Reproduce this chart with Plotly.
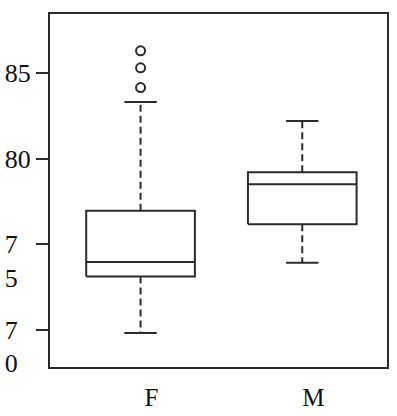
import plotly.graph_objects as go

# ---- data ----
groups = ["F", "M"]
q1 = [73.1, 76.15]
median = [73.95, 78.5]
q3 = [76.95, 79.2]
lower_whisker = [69.8, 73.9]
upper_whisker = [83.3, 82.2]
outliers = [[84.15, 85.3, 86.3], []]

ytick_vals = [70, 75, 80, 85]
ytick_text = ["\u00a0<br>7\u00a0\u00a0<br>0\u00a0\u00a0", "\u00a0<br>7\u00a0\u00a0<br>5\u00a0\u00a0", "80", "85"]

# ---- style ----
INK = "#2b2b2b"
FONT = "Liberation Serif"
BOX_HALF = 0.336
CAP_HALF = 0.1
LW = 2

fig = go.Figure()
positions = [i + 1 for i in range(len(groups))]

for i, pos in enumerate(positions):
    # box
    fig.add_trace(go.Scatter(
        x=[pos - BOX_HALF, pos + BOX_HALF, pos + BOX_HALF, pos - BOX_HALF, pos - BOX_HALF],
        y=[q1[i], q1[i], q3[i], q3[i], q1[i]],
        mode="lines", line=dict(color=INK, width=LW), hoverinfo="skip"))
    # median
    fig.add_trace(go.Scatter(
        x=[pos - BOX_HALF, pos + BOX_HALF], y=[median[i], median[i]],
        mode="lines", line=dict(color=INK, width=LW), hoverinfo="skip"))
    # whiskers (dashed)
    fig.add_trace(go.Scatter(
        x=[pos, pos, None, pos, pos],
        y=[q3[i], upper_whisker[i], None, q1[i], lower_whisker[i]],
        mode="lines", line=dict(color=INK, width=LW, dash="7px,4px"), hoverinfo="skip"))
    # caps
    fig.add_trace(go.Scatter(
        x=[pos - CAP_HALF, pos + CAP_HALF, None, pos - CAP_HALF, pos + CAP_HALF],
        y=[upper_whisker[i], upper_whisker[i], None, lower_whisker[i], lower_whisker[i]],
        mode="lines", line=dict(color=INK, width=LW), hoverinfo="skip"))
    # outliers
    if outliers[i]:
        fig.add_trace(go.Scatter(
            x=[pos] * len(outliers[i]), y=outliers[i], mode="markers",
            marker=dict(symbol="circle-open", size=9, color=INK, line=dict(width=2, color=INK)),
            hoverinfo="skip"))

fig.update_layout(
    width=397, height=416,
    margin=dict(l=50, r=10, t=14, b=49),
    paper_bgcolor="white", plot_bgcolor="white",
    showlegend=False,
    font=dict(family=FONT, size=25, color="#111"),
)
fig.update_xaxes(
    range=[0.44, 2.524], tickvals=positions, ticktext=groups,
    showgrid=False, zeroline=False, ticks="", automargin=False,
    showline=True, mirror=True, linewidth=2, linecolor=INK,
    ticklabelshift=11, ticklabelstandoff=7,
)
fig.update_yaxes(
    range=[67.81, 88.45], tickvals=ytick_vals, ticktext=ytick_text, automargin=False,
    tickfont=dict(size=26),
    showgrid=False, zeroline=False, ticks="outside", ticklen=12, tickwidth=2, tickcolor=INK,
    showline=True, mirror=True, linewidth=2, linecolor=INK,
)

fig.write_html("out.html")
